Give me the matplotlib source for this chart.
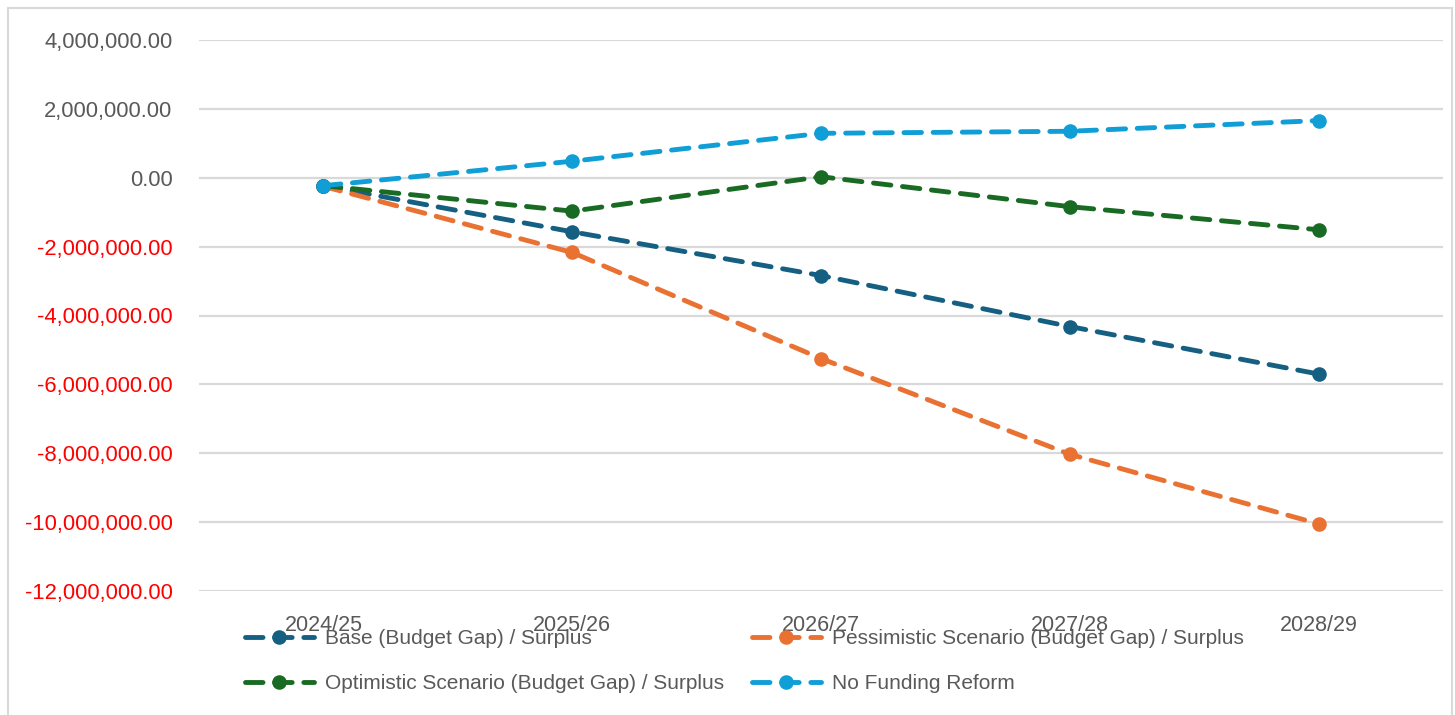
import matplotlib
matplotlib.use("Agg")
import matplotlib.pyplot as plt
from matplotlib.patches import Rectangle

categories = ["2024/25", "2025/26", "2026/27", "2027/28", "2028/29"]
base = [-230000, -1570000, -2840000, -4320000, -5700000]
pessimistic = [-250000, -2170000, -5250000, -8030000, -10050000]
optimistic = [-230000, -970000, 30000, -840000, -1510000]
no_funding = [-230000, 480000, 1290000, 1350000, 1660000]

series_names = ["Base (Budget Gap) / Surplus",
                "Pessimistic Scenario (Budget Gap) / Surplus",
                "Optimistic Scenario (Budget Gap) / Surplus",
                "No Funding Reform"]
colors = ["#156082", "#E97132", "#196B24", "#0F9ED5"]
yticks = [4000000, 2000000, 0, -2000000, -4000000, -6000000,
          -8000000, -10000000, -12000000]

plt.rcParams['font.family'] = ['Liberation Sans', 'DejaVu Sans']

W, H = 1455, 715
fig = plt.figure(figsize=(W / 100, H / 100), dpi=100)
ax = fig.add_axes([199 / W, 1 - 591 / H, (1443 - 199) / W, (591 - 40) / H])

x = list(range(len(categories)))
lines = {}
for name, vals, c in zip(series_names, [base, pessimistic, optimistic, no_funding], colors):
    ln, = ax.plot(x, vals, color=c, lw=3.5, dashes=(3.6, 2.4),
                  dash_capstyle='round', solid_capstyle='round',
                  marker='o', markersize=10.5, markeredgewidth=0, label=name)
    lines[name] = ln

ax.set_xlim(-0.5, len(categories) - 0.5)
ax.set_ylim(-12000000, 4000000)
ax.set_yticks(yticks, labels=[f"{v:,.2f}" for v in yticks])
ax.set_xticks(x, labels=categories)
for lab, v in zip(ax.get_yticklabels(), yticks):
    lab.set_color('#FF0000' if v < 0 else '#595959')
ax.tick_params(axis='y', length=0, pad=19, labelsize=15.8)
ax.tick_params(axis='x', length=0, pad=17, labelsize=15.5, labelcolor='#595959')
ax.grid(axis='y', color='#D9D9D9', lw=1.6)
ax.set_axisbelow(True)
for s in ax.spines.values():
    s.set_visible(False)

order = [series_names[0], series_names[2], series_names[1], series_names[3]]
leg = fig.legend([lines[n] for n in order], order, ncol=2, loc='center',
                 bbox_to_anchor=(744.5 / W, 1 - 661 / H), frameon=False,
                 fontsize=15, handlelength=3.3, handletextpad=0.55,
                 columnspacing=1.33, labelspacing=1.25, borderpad=0)
for t in leg.get_texts():
    t.set_color('#595959')

fig.patches.append(Rectangle((8 / W, -0.01), (1452 - 8) / W, 1 - 8 / H + 0.01,
                             transform=fig.transFigure, fill=False,
                             edgecolor='#D9D9D9', lw=1.5))

fig.savefig("out.png", dpi=100)
